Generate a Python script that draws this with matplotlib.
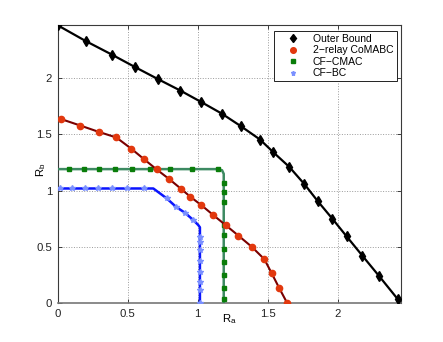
import numpy as np
import matplotlib
matplotlib.use('Agg')
import matplotlib.pyplot as plt

plt.rcParams['font.family'] = ['Liberation Sans', 'DejaVu Sans']

# values
ob_x = [0, 0.20, 0.386, 0.555, 0.719, 0.876, 1.024, 1.171, 1.309, 1.445, 1.54,
        1.654, 1.762, 1.857, 1.962, 2.064, 2.176, 2.297, 2.43]
ob_y = [2.47, 2.33, 2.21, 2.097, 1.99, 1.89, 1.789, 1.686, 1.573, 1.455, 1.342,
        1.212, 1.059, 0.908, 0.751, 0.594, 0.423, 0.24, 0.035]

co_x = [0.021, 0.162, 0.293, 0.419, 0.524, 0.619, 0.707, 0.797, 0.881, 0.948,
        1.026, 1.112, 1.2, 1.29, 1.386, 1.476, 1.528, 1.582, 1.64]
co_y = [1.638, 1.579, 1.523, 1.473, 1.375, 1.278, 1.189, 1.103, 1.017, 0.946,
        0.872, 0.783, 0.694, 0.602, 0.502, 0.392, 0.268, 0.136, 0.0]

cmac_x = [0, 0.081, 0.186, 0.295, 0.407, 0.529, 0.657, 0.8, 0.959, 1.143, 1.174,
          1.186, 1.186, 1.186, 1.186, 1.186, 1.186, 1.186, 1.186, 1.186, 1.186,
          1.186, 1.186]
cmac_y = [1.192, 1.192, 1.192, 1.192, 1.192, 1.192, 1.192, 1.192, 1.192, 1.192,
          1.182, 1.15, 1.07, 0.985, 0.896, 0.695, 0.606, 0.479, 0.364, 0.251,
          0.138, 0.035, 0.0]
cmac_marks = [1, 2, 3, 4, 5, 6, 7, 8, 9, 12, 13, 14, 15, 16, 17, 18, 19, 20, 21]

bc_x = [0.0, 0.014, 0.102, 0.195, 0.29, 0.388, 0.497, 0.619, 0.683, 0.779, 0.845,
        0.909, 0.969, 1.004, 1.016, 1.016, 1.016, 1.016, 1.016, 1.016, 1.016,
        1.016, 1.016]
bc_y = [1.02, 1.02, 1.02, 1.02, 1.02, 1.02, 1.02, 1.02, 1.02, 0.932, 0.857,
        0.804, 0.739, 0.695, 0.675, 0.59, 0.547, 0.473, 0.378, 0.28, 0.192,
        0.118, 0.005]
bc_marks = [1, 2, 3, 4, 5, 6, 7, 9, 10, 11, 12, 15, 16, 17, 18, 19, 20, 21, 22]

ticks = [0, 0.5, 1, 1.5, 2]
tick_labels = ['0', '0.5', '1', '1.5', '2']

fig = plt.figure(figsize=(4.43, 3.42), dpi=100)
ax = fig.add_axes([0.1302, 0.1132, 0.7743, 0.8129])

ax.plot(ob_x, ob_y, color='black', lw=1.6, marker='d', ms=5,
        mfc='black', mec='black', label='Outer Bound', zorder=5)
ax.plot(co_x, co_y, color='#7a0000', lw=1.5, marker='o', ms=4.5,
        mfc='#e2380e', mec='#e2380e', label='2\u2212relay CoMABC', zorder=4)
ax.plot(cmac_x, cmac_y, color='#3d8a62', lw=1.8, marker='s', ms=3,
        mfc='#0a7d0a', mec='#0a7d0a', markevery=cmac_marks,
        label='CF\u2212CMAC', zorder=3)
ax.plot(bc_x, bc_y, color='#0a14ff', lw=1.8, marker='*', ms=4,
        mfc='#7a90ff', mec='#7a90ff', markevery=bc_marks,
        label='CF\u2212BC', zorder=3)

ax.set_xlim(0, 2.45)
ax.set_ylim(0, 2.47)
ax.set_xticks(ticks)
ax.set_xticklabels(tick_labels)
ax.set_yticks(ticks)
ax.set_yticklabels(tick_labels)
ax.tick_params(direction='in', length=3, width=0.6, labelsize=8.2,
               top=True, right=True, pad=4, colors='#222222')
ax.grid(True, linestyle=':', color='#9a9a9a', lw=0.7)
for s in ax.spines.values():
    s.set_color('#3a3a3a')
    s.set_linewidth(0.8)
ax.spines['bottom'].set_color('#777777')
ax.spines['bottom'].set_linewidth(1.2)

ax.set_xlabel(r'$\mathregular{R_a}$', fontsize=8.2)
ax.xaxis.set_label_coords(0.5, -0.033)
ax.set_ylabel(r'$\mathregular{R_b}$', fontsize=8.2)
ax.yaxis.set_label_coords(-0.028, 0.48)

leg = ax.legend(loc='upper right', bbox_to_anchor=(0.988, 0.981),
                borderaxespad=0, fontsize=7.5, numpoints=1, fancybox=False,
                framealpha=1, edgecolor='#222222', borderpad=0.3,
                handlelength=3.0, handletextpad=0.4, labelspacing=0.15,
                markerscale=0.9)
leg.get_frame().set_linewidth(0.7)
for h in leg.legend_handles:
    h.set_linestyle('none')

fig.savefig('out.png', dpi=100)
